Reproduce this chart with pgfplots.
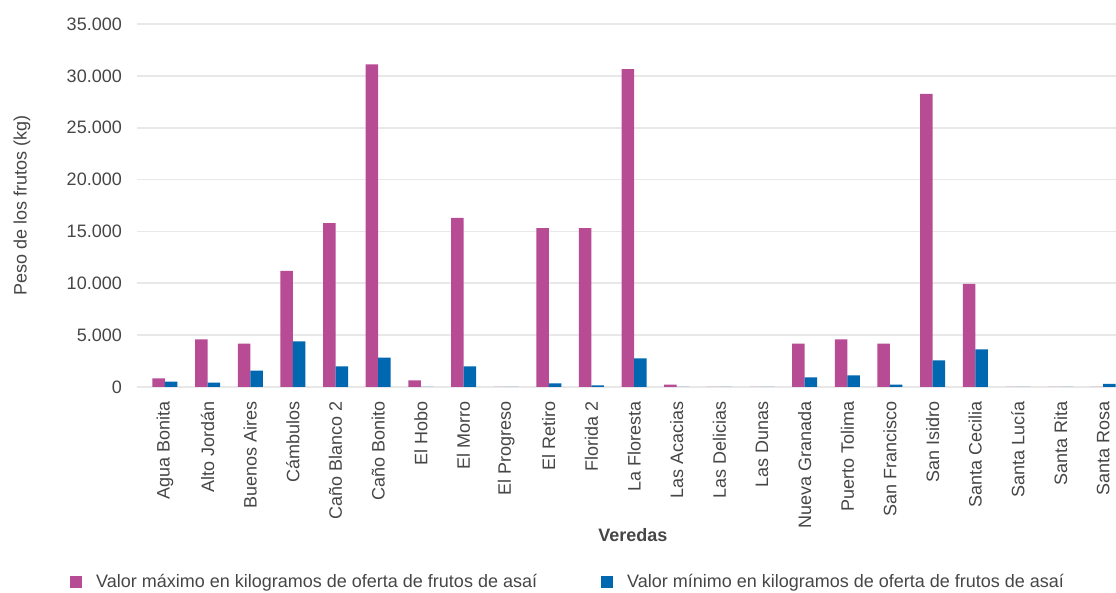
\documentclass[border=0pt]{standalone}
\usepackage{pgfplots}
\pgfplotsset{compat=1.18}
\usepackage{pgfplotstable}
\usepackage{fontspec}
\setmainfont{Liberation Sans}

\definecolor{maxcol}{RGB}{183,76,148}
\definecolor{mincol}{RGB}{0,103,177}
\definecolor{gridcol}{RGB}{232,232,232}
\definecolor{txt}{RGB}{70,70,70}

% idx, maximo, minimo (kg)
\pgfplotstableread{
idx max min
0 820 530
1 4580 430
2 4190 1590
3 11200 4390
4 15800 1980
5 31100 2840
6 630 0
7 16300 1980
8 0 0
9 15330 340
10 15330 150
11 30650 2750
12 240 0
13 0 0
14 0 0
15 4190 920
16 4580 1110
17 4190 240
18 28260 2560
19 9950 3620
20 0 0
21 0 0
22 0 300
}\veredas

\newcommand{\lbl}{\fontsize{18}{21.6}\selectfont}

\begin{document}
\begin{tikzpicture}
\begin{axis}[
    scale only axis,
    width=979pt, height=363pt,
    xmin=-0.656, xmax=22.3,
    ymin=0, ymax=35000,
    ybar=0pt,
    bar width=12.5pt,
    axis line style={draw=none},
    major tick length=0pt,
    xtick={0,...,22},
    xticklabels={Agua Bonita, Alto Jordán, Buenos Aires, Cámbulos, Caño Blanco 2, Caño Bonito, El Hobo, El Morro, El Progreso, El Retiro, Florida 2, La Floresta, Las Acacias, Las Delicias, Las Dunas, Nueva Granada, Puerto Tolima, San Francisco, San Isidro, Santa Cecilia, Santa Lucía, Santa Rita, Santa Rosa},
    xticklabel style={rotate=90, anchor=east, inner sep=0pt, font=\lbl, text=txt},
    xticklabel shift=14pt,
    ytick={0,5000,...,35000},
    scaled y ticks=false,
    yticklabel style={anchor=east, inner sep=0pt, font=\lbl, text=txt,
        /pgf/number format/.cd, fixed, 1000 sep={.}, assume math mode=true},
    yticklabel shift=15pt,
    ymajorgrids,
    major grid style={draw=gridcol, line width=1.8pt},
    ylabel={Peso de los frutos (kg)},
    ylabel style={at={(axis description cs:-0.1175,0.5)}, anchor=center, font=\lbl, text=txt},
    xlabel={\bfseries Veredas},
    xlabel style={at={(axis description cs:0.5066,-0.4077)}, anchor=center, font=\lbl, text=txt},
    legend columns=2,
    legend style={draw=none, fill=none, inner sep=0pt, font=\lbl, text=txt,
        at={(axis description cs:-0.0684,-0.537)}, anchor=west,
        /tikz/every odd column/.append style={column sep=12pt},
        /tikz/every even column/.append style={column sep=62pt}},
    legend cell align=left,
    legend image code/.code={\path[#1, draw=none] (0pt,-6pt) rectangle (12pt,6pt);},
]
\addplot[fill=maxcol, draw=none] table[x=idx, y=max] {\veredas};
\addlegendentry{Valor máximo en kilogramos de oferta de frutos de asaí}
\addplot[fill=mincol, draw=none] table[x=idx, y=min] {\veredas};
\addlegendentry{Valor mínimo en kilogramos de oferta de frutos de asaí}
\coordinate (sw) at (rel axis cs:0,0);
\coordinate (ne) at (rel axis cs:1,1);
\end{axis}
\pgfresetboundingbox
\path[use as bounding box] ([shift={(-137pt,-206pt)}]sw) rectangle ([shift={(0pt,24pt)}]ne);
\end{tikzpicture}
\end{document}
